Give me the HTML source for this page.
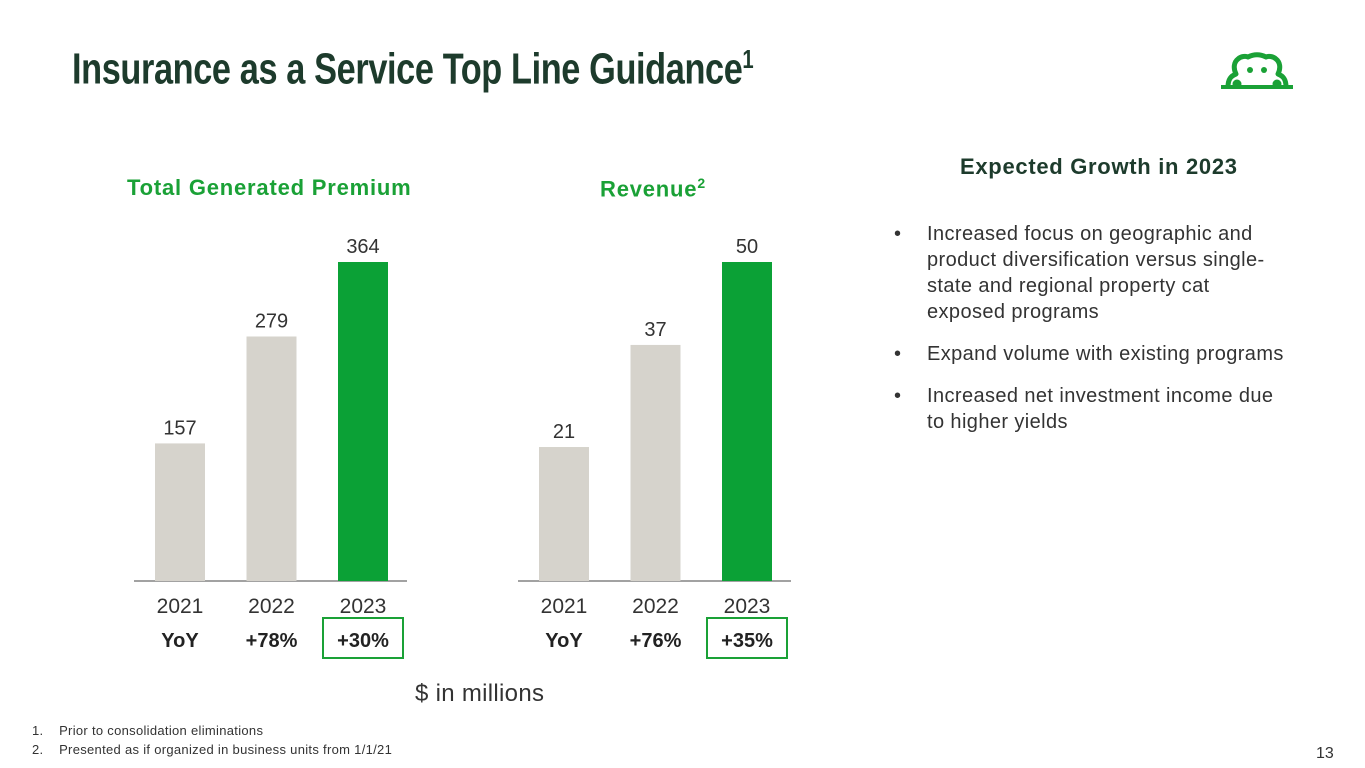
<!DOCTYPE html>
<html><head><meta charset="utf-8"><style>
body{margin:0;width:1365px;height:768px;background:#fff;font-family:"Liberation Sans",sans-serif;position:relative;overflow:hidden;color:#222}
.a{position:absolute}
#title{left:72px;top:44px;font-size:44px;font-weight:bold;color:#1d3b2c;transform:scaleX(0.78);transform-origin:left top;white-space:nowrap;letter-spacing:-0.5px}
.ct{font-size:22px;font-weight:bold;color:#1aa136;letter-spacing:0.8px}
ul{margin:0;padding:0;list-style:none}
li{position:relative;padding-left:33px;font-size:20px;line-height:26px;color:#333;margin-bottom:16px;letter-spacing:0.4px;white-space:nowrap}
li:before{content:"•";position:absolute;left:0}
</style></head><body>
<div id="title" class="a">Insurance as a Service Top Line Guidance<sup style="font-size:26px">1</sup></div>
<svg class="a" style="left:1218px;top:46px" width="78" height="46">
<path d="M10 41 C10 33 13 30 18 28 C15 22 16 16 20 13 C23 10 28 10 30 11 C36 8 42 8 48 11 C50 10 55 10 58 13 C62 16 63 22 60 28 C65 30 68 33 68 41" fill="none" stroke="#1aa136" stroke-width="5" stroke-linejoin="round"/>
<line x1="3" y1="41" x2="75" y2="41" stroke="#1aa136" stroke-width="4"/>
<circle cx="32" cy="24" r="3" fill="#1aa136"/><circle cx="46" cy="24" r="3" fill="#1aa136"/>
<circle cx="19" cy="38" r="4.5" fill="#1aa136"/><circle cx="59" cy="38" r="4.5" fill="#1aa136"/>
</svg>
<div class="a ct" style="left:127px;top:175px">Total Generated Premium</div>
<div class="a ct" style="left:600px;top:175px">Revenue<sup style="font-size:14px">2</sup></div>
<svg id="charts" class="a" style="left:0;top:0" width="900" height="768"></svg>
<div class="a" style="left:415px;top:680px;font-size:24px;color:#333;letter-spacing:0.3px">$ in millions</div>
<div class="a" style="left:960px;top:154px;font-size:22px;font-weight:bold;color:#1d3b2c;letter-spacing:0.7px">Expected Growth in 2023</div>
<ul class="a" style="left:894px;top:221px;width:440px">
<li>Increased focus on geographic and<br>product diversification versus single-<br>state and regional property cat<br>exposed programs</li>
<li>Expand volume with existing programs</li>
<li>Increased net investment income due<br>to higher yields</li>
</ul>
<div class="a" style="left:32px;top:721px;font-size:13px;line-height:19px;color:#333;letter-spacing:0.3px">1.&nbsp;&nbsp;&nbsp;&nbsp;Prior to consolidation eliminations<br>2.&nbsp;&nbsp;&nbsp;&nbsp;Presented as if organized in business units from 1/1/21</div>
<div class="a" style="left:1316px;top:745px;font-size:16px;color:#333">13</div>
<script>
const categories=["2021","2022","2023"];
const premiumValues=[157,279,364];
const revenueValues=[21,37,50];
const premiumYoY=["YoY","+78%","+30%"];
const revenueYoY=["YoY","+76%","+35%"];
const svg=document.getElementById('charts');
const NS="http://www.w3.org/2000/svg";
function mk(t,a){const e=document.createElementNS(NS,t);for(const k in a)e.setAttribute(k,a[k]);svg.appendChild(e);return e;}
function chart(name,x0,vals,yoy){
  const base=581,h=319,max=Math.max(...vals);
  const y=v=>base-v/max*h;
  const ax=mk('line',{x1:x0,x2:x0+273,y1:base,y2:base,stroke:'#444','stroke-width':1});
  
  
  vals.forEach((v,i)=>{
    const cx=x0+46+i*91.5;
    const last=i===vals.length-1;
    const r=mk('rect',{x:cx-25,y:y(v),width:50,height:base-y(v),fill:last?'#0ba136':'#d6d3cc'});
    
    
    const t=mk('text',{x:cx,y:y(v)-9,'text-anchor':'middle','font-size':20,fill:'#333','font-family':'Liberation Sans'});t.textContent=v;
    
    
    const c=mk('text',{x:cx,y:613,'text-anchor':'middle','font-size':21,fill:'#333','font-family':'Liberation Sans'});c.textContent=categories[i];
    
    
    const g=mk('text',{x:cx,y:647,'text-anchor':'middle','font-size':20,'font-weight':'bold',fill:'#222','font-family':'Liberation Sans'});g.textContent=yoy[i];
    
    
    if(last){const b=mk('rect',{x:cx-40,y:618,width:80,height:40,fill:'none',stroke:'#1aa136','stroke-width':2});
      
      }
  });
}
chart('premium',134,premiumValues,premiumYoY);
chart('revenue',518,revenueValues,revenueYoY);
</script>
</body></html>
